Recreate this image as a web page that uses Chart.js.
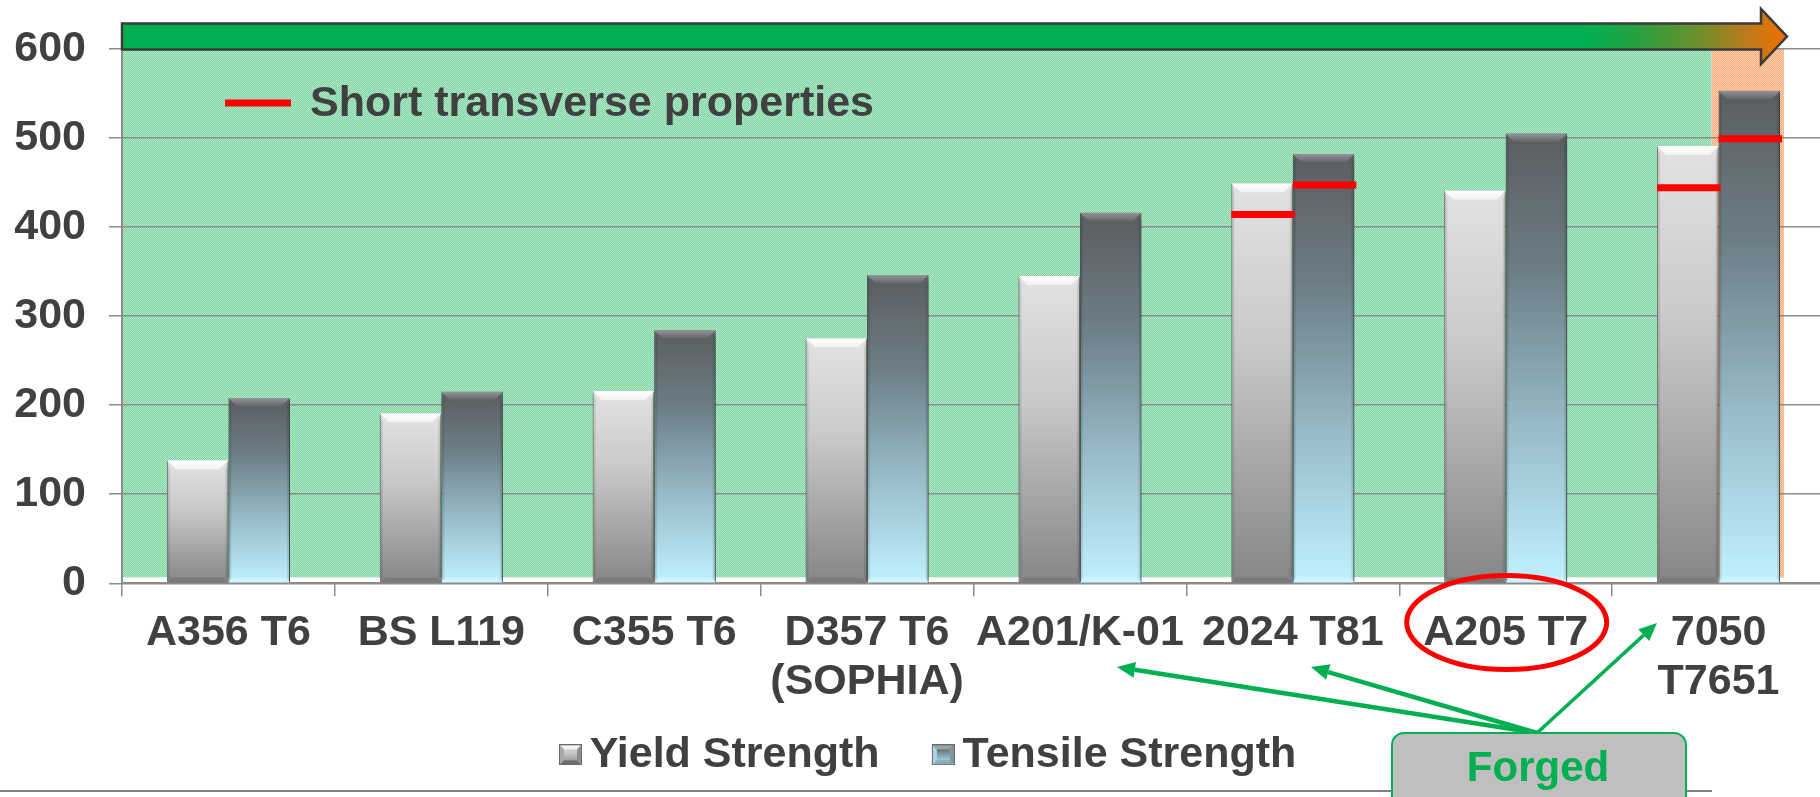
<!DOCTYPE html>
<html>
<head>
<meta charset="utf-8">
<title>Yield and tensile strength of aluminium alloys</title>
<script src="https://cdn.jsdelivr.net/npm/chart.js@4.4.1/dist/chart.umd.min.js"></script>
<style>
  html, body { margin: 0; padding: 0; background: #fff; overflow: hidden; }
  #wrap { width: 1820px; height: 797px; overflow: hidden; position: relative; }
  canvas { display: block; }
</style>
</head>
<body>
<div id="wrap"><canvas id="myChart" width="1825" height="797"></canvas></div>
<script>
const alloys = ["A356 T6", "BS L119", "C355 T6", ["D357 T6", "(SOPHIA)"], "A201/K-01", "2024 T81", "A205 T7", ["7050", "T7651"]];
const yieldStrength = [138, 191, 216, 275, 345, 449, 441, 491];
const tensileStrength = [208, 215, 284, 346, 416, 482, 505, 553];
// short transverse values, only measured for some alloys
const shortYield = [null, null, null, null, null, 414, null, 444];
const shortTensile = [null, null, null, null, null, 447, null, 499];
const yTicks = [0, 100, 200, 300, 400, 500, 600];

const FONT = '"Liberation Sans", Arial, Helvetica, sans-serif';
const SIZE = 43;
const TEXT = "#404040";
const GRID = "#8c8c8c";
const ctx = document.getElementById("myChart").getContext("2d");

function checker(c1, c2) {
  const p = document.createElement("canvas");
  p.width = 2;
  p.height = 2;
  const g = p.getContext("2d");
  g.fillStyle = c1;
  g.fillRect(0, 0, 2, 2);
  g.fillStyle = c2;
  g.fillRect(0, 0, 1, 1);
  g.fillRect(1, 1, 1, 1);
  return ctx.createPattern(p, "repeat");
}
const greenFill = checker("#7ed4a3", "#b2e7c8");
const orangeFill = checker("#f8ab78", "#fdd2b2");

const yieldStops = [[0, "#e2e2e2"], [0.4, "#c9c9c9"], [1, "#868686"]];
const tensileStops = [[0, "#5a5d60"], [0.3, "#6c7d85"], [0.65, "#97bbc7"], [1, "#c0f1ff"]];

function barFill(stops) {
  return (c) => {
    const chart = c.chart;
    if (!chart.chartArea || c.raw == null) return stops[0][1];
    const y = chart.scales.y;
    const g = chart.ctx.createLinearGradient(0, y.getPixelForValue(c.raw), 0, y.getPixelForValue(0));
    stops.forEach(([o, col]) => g.addColorStop(o, col));
    return g;
  };
}

function poly(g, pts, fill) {
  g.beginPath();
  g.moveTo(pts[0][0], pts[0][1]);
  pts.slice(1).forEach((p) => g.lineTo(p[0], p[1]));
  g.closePath();
  g.fillStyle = fill;
  g.fill();
}

// legend keys: bevelled square at the right end of a wider transparent image,
// so the gap between the two entries comes out wide while the key sits near its text
const KEY_BOX = 39.5;
function legendIcon(kind) {
  const c = document.createElement("canvas");
  const w = 23, h = 21, b = 5;
  c.width = Math.round(KEY_BOX + 27);
  c.height = h;
  const g = c.getContext("2d");
  g.translate(c.width - w, 0);
  const grad = g.createLinearGradient(0, 0, 0, h);
  const stops = kind === 0 ? yieldStops : tensileStops;
  stops.forEach(([o, col]) => grad.addColorStop(o, col));
  g.fillStyle = grad;
  g.fillRect(0, 0, w, h);
  poly(g, [[0, 0], [w, 0], [w - b, b], [b, b]], kind === 0 ? "#f4f4f4" : "#9aa3a8");
  poly(g, [[0, h], [w, h], [w - b, h - b], [b, h - b]], kind === 0 ? "#6c6c6c" : "#86aab8");
  poly(g, [[0, 0], [b, b], [b, h - b], [0, h]], kind === 0 ? "#a8a8a8" : "#a9d6e4");
  poly(g, [[w, 0], [w - b, b], [w - b, h - b], [w, h]], kind === 0 ? "#8e8e8e" : "#7f98a2");
  g.strokeStyle = "#6a6a6a";
  g.lineWidth = 1;
  g.strokeRect(0.5, 0.5, w - 1, h - 1);
  return c;
}

function arrow(g, x0, y0, x1, y1, lw) {
  const a = Math.atan2(y1 - y0, x1 - x0);
  const len = 18, hw = 8;
  const bx = x1 - len * Math.cos(a), by = y1 - len * Math.sin(a);
  g.beginPath();
  g.moveTo(x0, y0);
  g.lineTo(bx, by);
  g.lineWidth = lw;
  g.stroke();
  g.beginPath();
  g.moveTo(x1, y1);
  g.lineTo(bx + hw * Math.sin(a), by - hw * Math.cos(a));
  g.lineTo(bx - hw * Math.sin(a), by + hw * Math.cos(a));
  g.closePath();
  g.fill();
}

const decor = {
  id: "decor",
  beforeDraw(chart) {
    const { ctx: g, chartArea: a, scales } = chart;
    const y0 = scales.y.getPixelForValue(0);
    const last = chart.getDatasetMeta(1).data[alloys.length - 1];
    const oL = last.x - last.width / 2 - 7;
    const oR = last.x + last.width / 2 + 4;
    g.save();
    g.fillStyle = greenFill;
    g.fillRect(a.left, a.top, oL - a.left, y0 - 6 - a.top);
    g.fillStyle = orangeFill;
    g.fillRect(oL, a.top, oR - oL, y0 - 6 - a.top);
    g.restore();
  },
  beforeDatasetsDraw(chart) {
    const g = chart.ctx;
    g.save();
    g.shadowColor = "rgba(0,0,0,0.35)";
    g.shadowBlur = 8;
    g.shadowOffsetX = 3;
    g.shadowOffsetY = 4;
  },
  afterDatasetsDraw(chart) {
    const g = chart.ctx;
    g.restore();
    g.save();
    // bevels on every bar
    [0, 1].forEach((di) => {
      chart.getDatasetMeta(di).data.forEach((bar) => {
        const l = bar.x - bar.width / 2, r = bar.x + bar.width / 2;
        const t = bar.y, btm = bar.base;
        const b = 9, bb = 5;
        const tg = g.createLinearGradient(0, t, 0, t + b);
        if (di === 0) {
          tg.addColorStop(0, "#ffffff");
          tg.addColorStop(1, "#f2f2f2");
        } else {
          tg.addColorStop(0, "#939597");
          tg.addColorStop(1, "#5f6265");
        }
        poly(g, [[l, t], [r, t], [r - b, t + b], [l + b, t + b]], tg);
        poly(g, [[l, btm], [r, btm], [r - bb, btm - bb], [l + bb, btm - bb]], di === 0 ? "#7a7a7a" : "#cdf4ff");
        poly(g, [[l, t], [l + 3, t + b], [l + 3, btm - bb], [l, btm]], "rgba(0,0,0,0.10)");
        poly(g, [[r, t], [r - 3, t + b], [r - 3, btm - bb], [r, btm]], "rgba(0,0,0,0.10)");
      });
    });
    // short transverse markers
    const y = chart.scales.y;
    g.strokeStyle = "#ff0000";
    g.lineWidth = 7;
    [[0, shortYield], [1, shortTensile]].forEach(([di, vals]) => {
      const bars = chart.getDatasetMeta(di).data;
      vals.forEach((v, i) => {
        if (v == null) return;
        const bar = bars[i];
        const py = y.getPixelForValue(v);
        g.beginPath();
        g.moveTo(bar.x - bar.width / 2, py);
        g.lineTo(bar.x + bar.width / 2 + 2, py);
        g.stroke();
      });
    });
    g.restore();
  },
  afterDraw(chart) {
    const { ctx: g, chartArea: a, scales } = chart;
    g.save();

    // trend arrow along the top
    const tip = 1787, head = 1761, top = 23.5, bot = 49.5, mid = (top + bot) / 2;
    const grad = g.createLinearGradient(a.left, 0, tip, 0);
    const f = (x) => (x - a.left) / (tip - a.left);
    grad.addColorStop(0, "#00b050");
    grad.addColorStop(f(1583), "#00b050");
    grad.addColorStop(f(1640), "#2a9e40");
    grad.addColorStop(f(1700), "#6f8f2a");
    grad.addColorStop(f(1750), "#c2781a");
    grad.addColorStop(1, "#f07000");
    g.beginPath();
    g.moveTo(a.left, top);
    g.lineTo(head, top);
    g.lineTo(head, 9);
    g.lineTo(tip, mid);
    g.lineTo(head, 64);
    g.lineTo(head, bot);
    g.lineTo(a.left, bot);
    g.closePath();
    g.fillStyle = grad;
    g.fill();
    g.strokeStyle = "#3a3a3a";
    g.lineWidth = 2.5;
    g.lineJoin = "miter";
    g.stroke();

    // short transverse key
    g.strokeStyle = "#ff0000";
    g.lineWidth = 7;
    g.beginPath();
    g.moveTo(225, 103);
    g.lineTo(291, 103);
    g.stroke();
    g.fillStyle = TEXT;
    g.font = "bold " + SIZE + "px " + FONT;
    g.textBaseline = "middle";
    g.textAlign = "left";
    g.fillText("Short transverse properties", 310, 104);

    // highlight around A205 T7
    const cx = scales.x.getPixelForValue(6);
    g.strokeStyle = "#ff0000";
    g.lineWidth = 5;
    g.beginPath();
    g.ellipse(cx + 1, 622.5, 100, 47, 0, 0, Math.PI * 2);
    g.stroke();

    // slide rule line under the legend
    g.strokeStyle = "#7f7f7f";
    g.lineWidth = 2;
    g.beginPath();
    g.moveTo(0, 791);
    g.lineTo(1712, 791);
    g.stroke();

    // forged alloys callout
    const sx = 1537, sy = 733;
    g.strokeStyle = "#00b050";
    g.fillStyle = "#00b050";
    arrow(g, sx, sy, 1117, 667, 4.5);
    arrow(g, sx, sy, 1311, 667, 4.5);
    arrow(g, sx, sy, 1657, 623, 3.5);

    g.beginPath();
    g.roundRect(1392, 733, 294, 90, 12);
    g.fillStyle = "#bfbfbf";
    g.fill();
    g.strokeStyle = "#00b050";
    g.lineWidth = 2;
    g.stroke();
    g.fillStyle = "#00b050";
    g.textAlign = "center";
    g.font = "bold 42px " + FONT;
    g.fillText("Forged", 1538, 769);
    g.restore();
  }
};

new Chart(ctx, {
  type: "bar",
  data: {
    labels: alloys,
    datasets: [
      {
        label: "Yield Strength",
        data: yieldStrength,
        backgroundColor: barFill(yieldStops),
        borderColor: "#8a8a8a",
        borderWidth: 1,
        clip: false,
      },
      {
        label: "Tensile Strength",
        data: tensileStrength,
        backgroundColor: barFill(tensileStops),
        borderColor: "#55585b",
        borderWidth: 1,
        clip: false,
      },
    ],
  },
  options: {
    responsive: false,
    animation: false,
    events: [],
    layout: { padding: { left: 0, right: 0, top: 48, bottom: 10.7 } },
    datasets: { bar: { barPercentage: 1, categoryPercentage: 0.578 } },
    scales: {
      x: {
        offset: true,
        afterFit: (s) => { s.height = 128; },
        grid: { drawOnChartArea: false, offset: true, tickLength: 13, color: GRID, lineWidth: 1.5 },
        border: { color: GRID, width: 2 },
        ticks: {
          color: TEXT,
          padding: 13,
          maxRotation: 0,
          autoSkip: false,
          font: { family: FONT, size: SIZE, weight: "bold", lineHeight: 1.13 },
        },
      },
      y: {
        min: 0,
        max: 600,
        afterFit: (s) => { s.width = 122; },
        afterBuildTicks: (s) => { s.ticks = yTicks.map((v) => ({ value: v })); },
        grid: { tickLength: 13, color: GRID, lineWidth: 1.5 },
        border: { color: GRID, width: 2 },
        ticks: {
          color: TEXT,
          padding: 23,
          font: { family: FONT, size: SIZE, weight: "bold" },
        },
      },
    },
    plugins: {
      tooltip: { enabled: false },
      legend: {
        position: "bottom",
        labels: {
          usePointStyle: true,
          boxWidth: KEY_BOX,
          boxHeight: 20,
          padding: 22,
          color: TEXT,
          font: { family: FONT, size: SIZE, weight: "bold" },
          generateLabels: (chart) =>
            chart.data.datasets.map((ds, i) => ({
              text: ds.label,
              pointStyle: legendIcon(i),
              fillStyle: "transparent",
              strokeStyle: "transparent",
              lineWidth: 0,
              fontColor: TEXT,
              hidden: false,
              datasetIndex: i,
            })),
        },
      },
    },
  },
  plugins: [decor],
});
</script>
</body>
</html>
